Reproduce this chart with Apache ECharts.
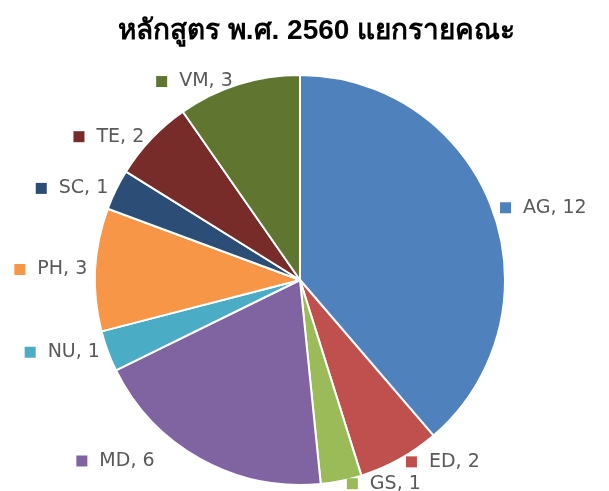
<!DOCTYPE html>
<html>
<head>
<meta charset="utf-8">
<script src="https://cdn.jsdelivr.net/npm/echarts@6/dist/echarts.min.js"></script>
<style>
  html, body { margin: 0; padding: 0; background: #fff; }
  #main { width: 609px; height: 491px; }
</style>
</head>
<body>
<div id="main"></div>
<script>
// faculties and course counts, clockwise from the top
var faculties = ["AG", "ED", "GS", "MD", "NU", "PH", "SC", "TE", "VM"];
var courseCounts = [12, 2, 1, 6, 1, 3, 1, 2, 3];
var sliceColors = ["#4F81BD", "#C0504D", "#9BBB59", "#8064A2", "#4BACC6", "#F79646", "#2C4D75", "#772C2A", "#5F7530"];

var myChart = echarts.init(document.getElementById("main"));

var pieData = faculties.map(function (name, i) {
  var item = {
    name: name,
    value: courseCounts[i],
    itemStyle: { color: sliceColors[i] },
    label: {
      rich: {
        m: { width: 11, height: 11, backgroundColor: sliceColors[i] },
        t: { fontSize: 19, color: "#595959", fontFamily: "DejaVu Sans", padding: [0, 0, 0, 12] }
      }
    }
  };
  // MD label sits further out in the original
  if (name === "MD") item.labelLine = { length: 2, length2: 40 };
  return item;
});

var option = {
  animation: false,
  title: {
    text: "หลักสูตร พ.ศ. 2560 แยกรายคณะ",
    left: 113,
    top: 12,
    textStyle: { fontSize: 28, fontWeight: "bold", color: "#000" }
  },
  series: [
    {
      type: "pie",
      center: [300, 280],
      radius: [0, 205],
      startAngle: 90,
      avoidLabelOverlap: false,
      itemStyle: { borderColor: "#fff", borderWidth: 2 },
      label: {
        show: true,
        position: "outside",
        formatter: "{m|}{t|{b}, {c}}"
      },
      labelLine: { show: false, length: 3, length2: 0 },
      data: pieData
    }
  ]
};

myChart.setOption(option);
</script>
</body>
</html>
